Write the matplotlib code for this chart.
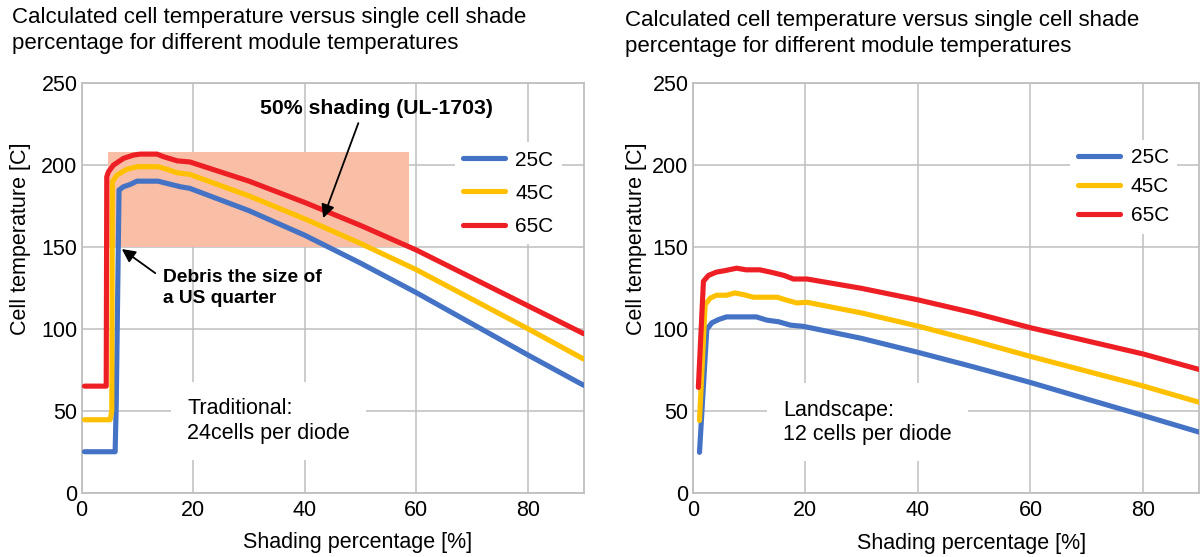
import matplotlib
matplotlib.use("Agg")
import matplotlib.pyplot as plt
from matplotlib.patches import Rectangle

plt.rcParams['font.family'] = ['Liberation Sans', 'DejaVu Sans']

# Traditional module (24 cells per diode)
trad_x_25 = [0.5, 6.0, 6.2, 6.7, 7.5, 8.7, 9.9, 13.7, 15.3, 17.7, 19.4, 30, 40, 50, 60, 70, 80, 90]
trad_y_25 = [25, 25, 55, 184.6, 186.6, 188, 190, 190, 188.6, 186.6, 185.6, 172, 157, 140, 122, 103, 84, 65.5]
trad_x_45 = [0.5, 5.1, 5.4, 5.5, 6.3, 8.1, 9.9, 13.7, 15.3, 17.1, 19.4, 30, 40, 50, 60, 70, 80, 90]
trad_y_45 = [44.5, 44.5, 50, 189.6, 193.7, 197.2, 198.8, 198.8, 197.2, 195.1, 194.1, 181, 167, 152, 136, 118, 100, 81.5]
trad_x_65 = [0.5, 4.4, 4.5, 4.8, 5.7, 7.5, 9.3, 10.5, 13.5, 14.7, 17.1, 19.4, 30, 40, 50, 60, 70, 80, 90]
trad_y_65 = [65, 65, 192.7, 195.7, 199.8, 203.9, 205.9, 206.5, 206.5, 204.9, 202.4, 201.7, 190, 177, 163, 148, 131, 114, 97]

# Landscape module (12 cells per diode)
land_x_25 = [1.2, 2.5, 3.4, 4.6, 6.0, 11.3, 13.2, 15.3, 17.3, 19.7, 30, 40, 50, 60, 70, 80, 90]
land_y_25 = [25, 100, 104, 106, 107.6, 107.6, 105.6, 104.6, 102.6, 101.8, 94.5, 86, 77, 67.6, 57.5, 47.5, 37.3]
land_x_45 = [1.2, 2.2, 3.1, 4.2, 6.0, 7.5, 9.0, 10.8, 15.0, 16.7, 18.5, 20.3, 30, 40, 50, 60, 70, 80, 90]
land_y_45 = [44.4, 115, 119, 120.8, 120.8, 122.2, 121.2, 119.6, 119.6, 117.8, 116.1, 116.5, 110, 102, 93, 83.5, 74.5, 65.5, 55.5]
land_x_65 = [1.0, 1.9, 2.8, 4.2, 5.7, 7.8, 9.5, 11.9, 14.1, 16.2, 17.9, 20.3, 30, 40, 50, 60, 70, 80, 90]
land_y_65 = [64.6, 129.3, 132.9, 134.9, 135.8, 137.3, 136.3, 136.3, 134.7, 132.9, 130.7, 130.7, 125, 118, 110, 101, 93, 85, 75.5]

labels = ["25C", "45C", "65C"]
colors = ["#4472C4", "#FFC000", "#EE1E25"]

# UL-1703 shaded region
shade_x = (4.8, 58.6)
shade_y = (150, 208)

title = "Calculated cell temperature versus single cell shade\npercentage for different module temperatures"
FS = 15.5

fig = plt.figure(figsize=(12.01, 5.57), dpi=100)
ax1 = fig.add_axes([0.068, 0.1154, 0.418, 0.736])
ax2 = fig.add_axes([0.5768, 0.1143, 0.4218, 0.736])


def style_axes(ax):
    ax.set_xlim(0, 90)
    ax.set_ylim(0, 250)
    ax.set_xticks([0, 20, 40, 60, 80])
    ax.set_yticks([0, 50, 100, 150, 200, 250])
    ax.grid(True, color="#BFBFBF", lw=1.1)
    ax.set_axisbelow(True)
    for s in ax.spines.values():
        s.set_color("#BFBFBF")
        s.set_linewidth(1.3)
    ax.tick_params(length=0, labelsize=FS)
    ax.tick_params(axis="y", pad=3)
    ax.tick_params(axis="x", pad=5)
    ax.set_xlabel("Shading percentage [%]", fontsize=FS)
    ax.set_ylabel("Cell temperature [C]", fontsize=FS)
    ax.xaxis.set_label_coords(0.55, -0.097)


style_axes(ax1)
style_axes(ax2)
ax1.yaxis.set_label_coords(-0.101, 0.62)
ax2.yaxis.set_label_coords(-0.09, 0.62)

ax1.add_patch(Rectangle((shade_x[0], shade_y[0]), shade_x[1] - shade_x[0], shade_y[1] - shade_y[0],
                        facecolor="#F9BFA6", edgecolor="none", zorder=1))

for xs, ys, lab, c in zip([trad_x_25, trad_x_45, trad_x_65], [trad_y_25, trad_y_45, trad_y_65], labels, colors):
    ax1.plot(xs, ys, color=c, lw=3.7, label=lab, solid_joinstyle="round", solid_capstyle="round", zorder=3)
for xs, ys, lab, c in zip([land_x_25, land_x_45, land_x_65], [land_y_25, land_y_45, land_y_65], labels, colors):
    ax2.plot(xs, ys, color=c, lw=3.7, label=lab, solid_joinstyle="round", solid_capstyle="round", zorder=3)

LFS = 15
ax1.legend(loc="upper left", bbox_to_anchor=(0.743, 0.855), fontsize=LFS, frameon=True,
           facecolor="white", edgecolor="none", framealpha=1, fancybox=False,
           handlelength=2.0, handletextpad=0.5, labelspacing=0.68, borderaxespad=0)
ax2.legend(loc="upper left", bbox_to_anchor=(0.745, 0.862), fontsize=LFS, frameon=True,
           facecolor="white", edgecolor="none", framealpha=1, fancybox=False,
           handlelength=2.0, handletextpad=0.5, labelspacing=0.48, borderaxespad=0)

box = dict(boxstyle="square,pad=0.75", facecolor="white", edgecolor="none")
ax1.text(18.9, 43.7, "Traditional:\n24cells per diode", fontsize=FS, va="center", ha="left",
         bbox=box, zorder=2)
ax2.text(16.0, 43.4, "Landscape:\n12 cells per diode", fontsize=FS, va="center", ha="left",
         bbox=box, zorder=2)

ax1.text(52.9, 234.6, "50% shading (UL-1703)", fontsize=15.3, fontweight="bold", ha="center", va="center")
ax1.annotate("", xy=(43.3, 167.5), xytext=(49.6, 225.4),
             arrowprops=dict(arrowstyle="-|>", color="black", lw=1.3, mutation_scale=20,
                             shrinkA=0, shrinkB=0), zorder=4)
ax1.text(14.6, 125.1, "Debris the size of\na US quarter", fontsize=13.8, fontweight="bold",
         ha="left", va="center", linespacing=1.3)
ax1.annotate("", xy=(7.2, 148.6), xytext=(13.2, 133.9),
             arrowprops=dict(arrowstyle="-|>", color="black", lw=1.3, mutation_scale=20,
                             shrinkA=0, shrinkB=0), zorder=4)

fig.text(12 / 1201, 1 - 7 / 557, title, fontsize=16, ha="left", va="top", linespacing=1.3)
fig.text(625 / 1201, 1 - 10 / 557, title, fontsize=16, ha="left", va="top", linespacing=1.3)

fig.savefig("out.png", dpi=100)
